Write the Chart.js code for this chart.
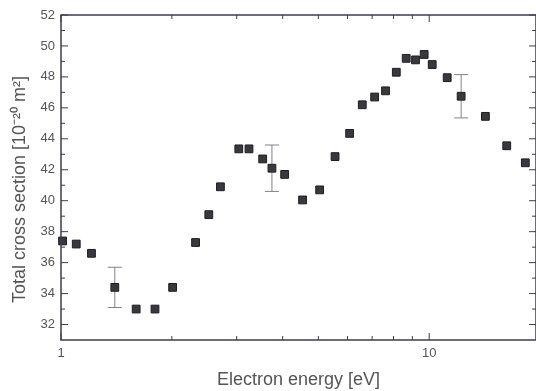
<!DOCTYPE html>
<html>
<head>
<meta charset="utf-8">
<script src="https://cdn.jsdelivr.net/npm/chart.js@4/dist/chart.umd.min.js"></script>
<style>
  html, body { margin: 0; padding: 0; background: #fff; }
  #wrap { width: 536px; height: 391px; }
</style>
</head>
<body>
<div id="wrap"><canvas id="tcsChart" width="536" height="391"></canvas></div>
<script>
// energia del electron [eV] y seccion eficaz total [1e-20 m^2]
const energies = [1.01, 1.10, 1.21, 1.40, 1.60, 1.80, 2.01, 2.32, 2.52, 2.71,
                  3.04, 3.24, 3.53, 3.74, 4.05, 4.53, 5.04, 5.55, 6.08, 6.58,
                  7.11, 7.61, 8.14, 8.66, 9.18, 9.69, 10.19, 11.19, 12.21, 14.21,
                  16.24, 18.24];
const crossSections = [37.4, 37.2, 36.6, 34.4, 33.0, 33.0, 34.4, 37.3, 39.1, 40.9,
                       43.35, 43.35, 42.7, 42.1, 41.7, 40.05, 40.7, 42.85, 44.35, 46.2,
                       46.7, 47.1, 48.3, 49.2, 49.1, 49.45, 48.8, 47.95, 46.75, 45.45,
                       43.55, 42.45];
// barras de error (solo en tres puntos)
const errors = [null, null, null, 1.3, null, null, null, null, null, null,
                null, null, null, 1.5, null, null, null, null, null, null,
                null, null, null, null, null, null, null, null, 1.4, null,
                null, null];

const xTickValues = [1, 2, 3, 4, 5, 6, 7, 8, 9, 10];
const xTickLabels = ['1', '', '', '', '', '', '', '', '', '10'];
const yTickValues = [32, 34, 36, 38, 40, 42, 44, 46, 48, 50, 52];
const yTitle = 'Total cross section [10\u207B\u00B2\u2070 m\u00B2]';

const axisColor = '#3c3c50';
const textColor = '#555';

// barras de error, marco con ticks hacia dentro y titulo del eje y
const frameAndErrors = {
    id: 'frameAndErrors',
    beforeDatasetsDraw(chart) {
        const { ctx, scales: { x, y } } = chart;
        ctx.save();
        ctx.strokeStyle = '#80808f';
        ctx.lineWidth = 1;
        errors.forEach((e, i) => {
            if (e == null) return;
            const px = x.getPixelForValue(energies[i]);
            const yHi = y.getPixelForValue(crossSections[i] + e);
            const yLo = y.getPixelForValue(crossSections[i] - e);
            ctx.beginPath();
            ctx.moveTo(px, yHi); ctx.lineTo(px, yLo);
            ctx.moveTo(px - 7, yHi); ctx.lineTo(px + 7, yHi);
            ctx.moveTo(px - 7, yLo); ctx.lineTo(px + 7, yLo);
            ctx.stroke();
        });
        ctx.restore();
    },
    afterDraw(chart) {
        const { ctx, chartArea: { left, right, top, bottom }, scales: { x, y } } = chart;
        ctx.save();
        ctx.strokeStyle = axisColor;
        ctx.lineWidth = 1.5;
        ctx.strokeRect(left, top, right - left, bottom - top);
        ctx.lineWidth = 1;
        ctx.beginPath();
        xTickValues.forEach((v, i) => {
            const px = x.getPixelForValue(v);
            const len = xTickLabels[i] ? 7 : 4;
            ctx.moveTo(px, bottom); ctx.lineTo(px, bottom - len);
            ctx.moveTo(px, top); ctx.lineTo(px, top + len);
        });
        for (let v = 32; v <= 52; v++) {
            const py = y.getPixelForValue(v);
            const len = v % 2 === 0 ? 7 : 4;
            ctx.moveTo(left, py); ctx.lineTo(left + len, py);
            ctx.moveTo(right, py); ctx.lineTo(right - len, py);
        }
        ctx.stroke();

        // titulo vertical, algo por debajo del centro como en el original
        ctx.translate(20, (top + bottom) / 2 + 12);
        ctx.rotate(-Math.PI / 2);
        ctx.fillStyle = textColor;
        ctx.font = '18px "Liberation Sans"';
        ctx.textAlign = 'center';
        ctx.textBaseline = 'middle';
        ctx.fillText(yTitle, 0, 0);
        ctx.restore();
    }
};

new Chart(document.getElementById('tcsChart'), {
    type: 'scatter',
    data: {
        datasets: [{
            data: energies.map((e, i) => ({ x: e, y: crossSections[i] })),
            pointStyle: 'rect',
            pointRadius: 5.5,
            backgroundColor: '#38383e',
            borderColor: '#1e1e22',
            borderWidth: 1,
            clip: false
        }]
    },
    options: {
        responsive: false,
        animation: false,
        layout: { autoPadding: false, padding: { top: 15, right: 0, left: 0, bottom: 0 } },
        plugins: {
            legend: { display: false },
            tooltip: { enabled: false }
        },
        scales: {
            x: {
                type: 'logarithmic',
                min: 1,
                max: 19.5,
                afterBuildTicks: (s) => { s.ticks = xTickValues.map(v => ({ value: v })); },
                afterFit: (s) => { s.height = 51; s.paddingLeft = 0; s.paddingRight = 0; },
                ticks: {
                    autoSkip: false,
                    maxRotation: 0,
                    padding: 6,
                    color: textColor,
                    font: { family: 'Liberation Sans', size: 13 },
                    callback: (v, i) => xTickLabels[i]
                },
                grid: { display: false, drawTicks: false },
                border: { display: false },
                title: {
                    display: true,
                    text: 'Electron energy [eV]',
                    color: textColor,
                    font: { family: 'Liberation Sans', size: 18 },
                    padding: { top: 2, bottom: 0 }
                }
            },
            y: {
                min: 31,
                max: 52,
                afterBuildTicks: (s) => { s.ticks = yTickValues.map(v => ({ value: v })); },
                afterFit: (s) => { s.width = 61; s.paddingTop = 0; s.paddingBottom = 0; },
                ticks: {
                    padding: 6,
                    color: textColor,
                    font: { family: 'Liberation Sans', size: 13 }
                },
                grid: { display: false, drawTicks: false },
                border: { display: false },
                title: { display: false }
            }
        }
    },
    plugins: [frameAndErrors]
});
</script>
</body>
</html>
